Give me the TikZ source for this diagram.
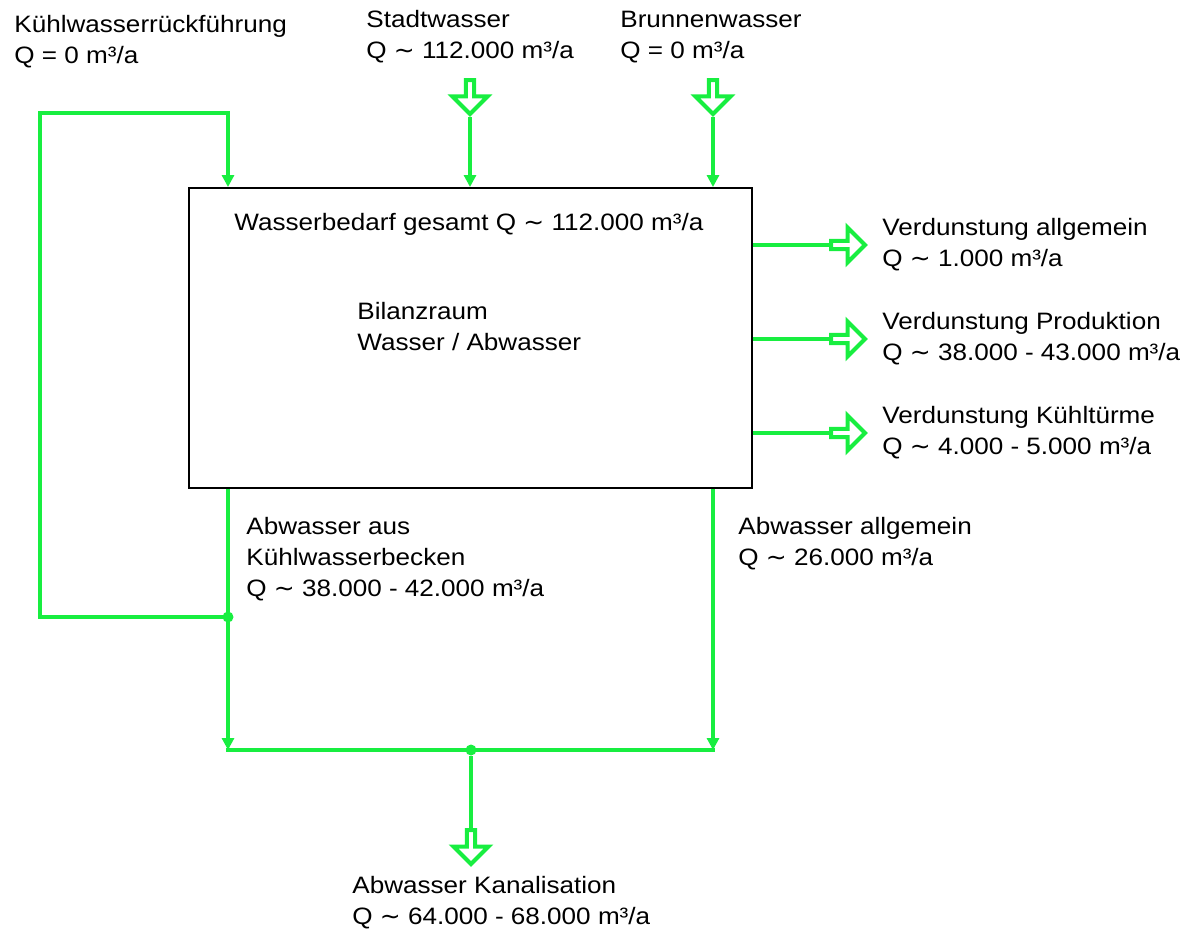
\documentclass[tikz,border=0pt]{standalone}
\usepackage{fontspec}
\setmainfont{Liberation Sans}[FakeStretch=1.1]
\newfontfamily\symbolfont{DejaVu Sans}[FakeStretch=1.05]
\newcommand{\circa}{{\symbolfont ∼}}
\usepackage{tikz}
\usetikzlibrary{shapes,positioning,calc}
\usetikzlibrary{arrows.meta}
\definecolor{wassergruen}{RGB}{24,238,64}
\tikzstyle{flow} = [wassergruen,line width=0.08cm,-{Triangle[length=0.24cm,width=0.24cm]}]

\begin{document}
\begin{tikzpicture}[x=0.02cm, y=-0.02cm, flowtext/.style={align=left, anchor=base west, inner sep=0pt, font=\fontsize{13.5pt}{17.4pt}\selectfont}, hollow/.style={single arrow, draw=wassergruen, line width=0.08cm, minimum height=0.68cm, minimum width=0.70cm, single arrow head extend=0.13cm, inner sep=0pt, anchor=tail}, junction/.style={circle, fill=wassergruen, inner sep=0pt, minimum size=0.22cm}]
			
			\useasboundingbox (0,0) rectangle (1180,930);
			
			% BILANZRAUM
			
			\node [draw, line width=0.04cm, minimum width=11.26cm, minimum height=6cm, inner sep=0pt] (bilanz) at (470.5,338) {};
			\node [flowtext] (bedarf) at (234,230) {Wasserbedarf gesamt Q \circa{} 112.000 m³/a};
			\node [flowtext] (bilanzraum) at (357,350) {Bilanzraum\\Wasser / Abwasser};
			
			% ZULAUF
			
			\node [flowtext] (kuehltitel) at (14,63) {Kühlwasserrückführung\\Q = 0 m³/a};
			\node [flowtext] (stadttitel) at (366,58) {Stadtwasser\\Q \circa{} 112.000 m³/a};
			\node [flowtext] (brunnentitel) at (620,58) {Brunnenwasser\\Q = 0 m³/a};
			
			\node [hollow, rotate=-90] (stadtpfeil) at (470,78) {};
			\node [hollow, rotate=-90] (brunnenpfeil) at (713,78) {};
			
			\draw [flow] (stadtpfeil.tip) -- (stadtpfeil.tip |- bilanz.north);
			\draw [flow] (brunnenpfeil.tip) -- (brunnenpfeil.tip |- bilanz.north);
			
			% VERDUNSTUNG
			
			\node [flowtext] (verdallg) at (882,266) {Verdunstung allgemein\\Q \circa{} 1.000 m³/a};
			\node [flowtext] (verdprod) at (882,360) {Verdunstung Produktion\\Q \circa{} 38.000 - 43.000 m³/a};
			\node [flowtext] (verdturm) at (882,454) {Verdunstung Kühltürme\\Q \circa{} 4.000 - 5.000 m³/a};
			
			\node [hollow] (verdallgpfeil) at (829,245) {};
			\node [hollow] (verdprodpfeil) at (829,339) {};
			\node [hollow] (verdturmpfeil) at (829,433) {};
			
			\draw [flow,-] (bilanz.east |- verdallgpfeil.tail) -- (verdallgpfeil.tail);
			\draw [flow,-] (bilanz.east |- verdprodpfeil.tail) -- (verdprodpfeil.tail);
			\draw [flow,-] (bilanz.east |- verdturmpfeil.tail) -- (verdturmpfeil.tail);
			
			% ABWASSER
			
			\node [flowtext] (abwkuehl) at (246,596) {Abwasser aus\\Kühlwasserbecken\\Q \circa{} 38.000 - 42.000 m³/a};
			\node [flowtext] (abwallg) at (738,565) {Abwasser allgemein\\Q \circa{} 26.000 m³/a};
			\node [flowtext] (kanal) at (352,924) {Abwasser Kanalisation\\Q \circa{} 64.000 - 68.000 m³/a};
			
			\coordinate (rueckoben) at (228,113);
			\coordinate (rueckecke) at (40,113);
			\coordinate (rueckunten) at (40,617);
			\coordinate (sammellinks) at (228,750);
			\coordinate (sammelrechts) at (713,750);
			\node [junction] (kuehlknoten) at (228,617) {};
			\node [junction] (sammelknoten) at (471,750) {};
			\node [hollow, rotate=-90] (kanalpfeil) at (471,828) {};
			
			\draw [flow] (kuehlknoten.center) -- (rueckunten) -- (rueckecke) -- (rueckoben) -- (rueckoben |- bilanz.north);
			\draw [flow] (sammellinks |- bilanz.south) -- (sammellinks);
			\draw [flow] (sammelrechts |- bilanz.south) -- (sammelrechts);
			\draw [flow,-,line cap=rect] (sammellinks) -- (sammelrechts);
			\draw [flow,-] (sammelknoten) -- (kanalpfeil.tail);
		
		\end{tikzpicture}
\end{document}
